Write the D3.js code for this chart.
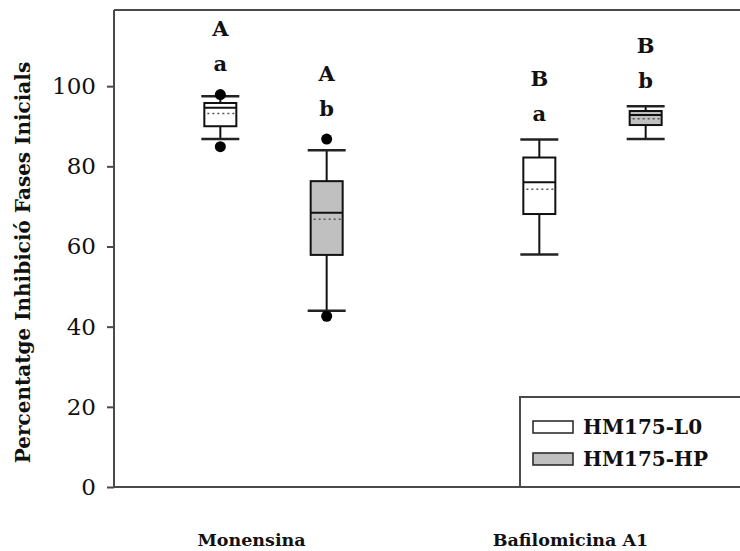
<!DOCTYPE html>
<html>
<head>
<meta charset="utf-8">
<script src="https://cdn.jsdelivr.net/npm/d3@7"></script>
<style>
  html, body { margin: 0; padding: 0; background: #fff; }
  svg { display: block; }
</style>
</head>
<body>
<svg id="chart" width="740" height="551"></svg>
<script>
// Treatments (x groups) and virus strains (boxes within each group)
const groups = ["Monensina", "Bafilomicina A1"];
const series = ["HM175-L0", "HM175-HP"];

// Box statistics per group, one entry per strain
const whiskerLow  = [[86.8, 44.0], [58.0, 86.8]];
const quartile1   = [[90.0, 57.9], [68.1, 90.3]];
const medians     = [[94.6, 68.4], [76.0, 92.8]];
const means       = [[93.2, 66.8], [74.3, 91.9]];
const quartile3   = [[95.8, 76.3], [82.2, 93.8]];
const whiskerHigh = [[97.5, 84.0], [86.7, 95.0]];
const outliers    = [[[84.9, 97.9], [42.6, 86.8]], [[], []]];

// Significance letters: upper case between treatments, lower case between strains
const upperLetters = [["A", "A"], ["B", "B"]];
const lowerLetters = [["a", "b"], ["a", "b"]];

const yTicks = [0, 20, 40, 60, 80, 100];
const seriesFill = ["#ffffff", "#c0c0c0"];

const svg = d3.select("#chart");
const axisColor = "#4a4a4a";
const serif = "'DejaVu Serif', 'Liberation Serif', serif";

const plot = { left: 114, top: 10, right: 752, bottom: 487 };

const y = d3.scaleLinear().domain([0, 119]).range([plot.bottom, plot.top]);
const x = d3.scaleBand().domain(groups).range([plot.left, plot.right]).padding(0);
const xs = d3.scaleBand().domain(series).range([0, x.bandwidth()])
  .paddingInner(0).paddingOuter(0.5);

const boxW = 32, capW = 38, dotR = 5.5;

// Flatten into one record per box
const boxes = [];
groups.forEach((g, gi) => series.forEach((s, si) => boxes.push({
  g, s, si,
  lo: whiskerLow[gi][si], q1: quartile1[gi][si], med: medians[gi][si],
  mean: means[gi][si], q3: quartile3[gi][si], hi: whiskerHigh[gi][si],
  out: outliers[gi][si], up: upperLetters[gi][si], low: lowerLetters[gi][si]
})));
const cx = d => x(d.g) + xs(d.s) + xs.bandwidth() / 2;

// Top frame line
svg.append("line")
  .attr("x1", plot.left).attr("x2", 740)
  .attr("y1", plot.top).attr("y2", plot.top)
  .attr("stroke", axisColor).attr("stroke-width", 2);

// X axis baseline
svg.append("line")
  .attr("x1", plot.left).attr("x2", 740)
  .attr("y1", plot.bottom).attr("y2", plot.bottom)
  .attr("stroke", axisColor).attr("stroke-width", 2);

// Y axis
const yAxis = svg.append("g")
  .attr("transform", `translate(${plot.left},0)`)
  .call(d3.axisLeft(y).tickValues(yTicks).tickSize(7).tickPadding(11).tickSizeOuter(0));
yAxis.select(".domain").attr("stroke", axisColor).attr("stroke-width", 2)
  .attr("d", `M0,${plot.bottom}V${plot.top}`);
yAxis.selectAll(".tick line").attr("stroke", axisColor).attr("stroke-width", 2);
yAxis.selectAll(".tick text")
  .attr("font-family", serif).attr("font-size", 23).attr("fill", "#111");

// Y axis title
svg.append("text")
  .attr("transform", `translate(30,${(plot.top + plot.bottom) / 2 + 14}) rotate(-90)`)
  .attr("text-anchor", "middle")
  .attr("font-family", serif).attr("font-weight", "bold").attr("font-size", 20)
  .attr("fill", "#111")
  .text("Percentatge Inhibició Fases Inicials");

// Group labels
svg.selectAll("text.group").data(groups).join("text")
  .attr("class", "group")
  .attr("x", g => x(g) + x.bandwidth() / 2 - 22)
  .attr("y", 546)
  .attr("text-anchor", "middle")
  .attr("font-family", serif).attr("font-weight", "bold").attr("font-size", 17.5)
  .attr("fill", "#111")
  .text(g => g);

// Box plots
const bx = svg.append("g").selectAll("g").data(boxes).join("g");

// whisker stems
bx.append("line")
  .attr("x1", cx).attr("x2", cx)
  .attr("y1", d => y(d.hi)).attr("y2", d => y(d.q3))
  .attr("stroke", "#111").attr("stroke-width", 2);
bx.append("line")
  .attr("x1", cx).attr("x2", cx)
  .attr("y1", d => y(d.q1)).attr("y2", d => y(d.lo))
  .attr("stroke", "#111").attr("stroke-width", 2);
// caps
bx.selectAll("line.cap").data(d => [d.lo, d.hi].map(v => ({ c: cx(d), v }))).join("line")
  .attr("class", "cap")
  .attr("x1", c => c.c - capW / 2).attr("x2", c => c.c + capW / 2)
  .attr("y1", c => y(c.v)).attr("y2", c => y(c.v))
  .attr("stroke", "#222").attr("stroke-width", 2.5);
// box
bx.append("rect")
  .attr("x", d => cx(d) - boxW / 2).attr("width", boxW)
  .attr("y", d => y(d.q3)).attr("height", d => y(d.q1) - y(d.q3))
  .attr("fill", d => seriesFill[d.si])
  .attr("stroke", "#111").attr("stroke-width", 2);
// median
bx.append("line")
  .attr("x1", d => cx(d) - boxW / 2).attr("x2", d => cx(d) + boxW / 2)
  .attr("y1", d => y(d.med)).attr("y2", d => y(d.med))
  .attr("stroke", "#111").attr("stroke-width", 2);
// mean (dotted)
bx.append("line")
  .attr("x1", d => cx(d) - boxW / 2 + 3).attr("x2", d => cx(d) + boxW / 2 - 2)
  .attr("y1", d => y(d.mean)).attr("y2", d => y(d.mean))
  .attr("stroke", "#555").attr("stroke-width", 1.5)
  .attr("stroke-dasharray", "2,3");
// outliers
bx.selectAll("circle").data(d => d.out.map(v => ({ c: cx(d), v }))).join("circle")
  .attr("cx", o => o.c).attr("cy", o => y(o.v)).attr("r", dotR)
  .attr("fill", "#000");

// Letters above each box
const topOf = d => d.out.length ? y(d3.max(d.out)) - dotR : y(d.hi);
bx.append("text")
  .attr("x", cx).attr("y", d => topOf(d) - 26 + 8)
  .attr("text-anchor", "middle")
  .attr("font-family", serif).attr("font-weight", "bold").attr("font-size", 21)
  .attr("fill", "#111")
  .text(d => d.low);
bx.append("text")
  .attr("x", cx).attr("y", d => topOf(d) - 61 + 8)
  .attr("text-anchor", "middle")
  .attr("font-family", serif).attr("font-weight", "bold").attr("font-size", 21)
  .attr("fill", "#111")
  .text(d => d.up);

// Legend
const legend = svg.append("g");
legend.append("rect")
  .attr("x", 520).attr("y", 397).attr("width", 240).attr("height", plot.bottom - 397)
  .attr("fill", "#fff").attr("stroke", axisColor).attr("stroke-width", 2);
const items = legend.selectAll("g.item").data(series).join("g")
  .attr("class", "item")
  .attr("transform", (s, i) => `translate(533,${421 + i * 32})`);
items.append("rect")
  .attr("width", 40).attr("height", 12)
  .attr("fill", (s, i) => seriesFill[i])
  .attr("stroke", "#222").attr("stroke-width", 1.5);
items.append("text")
  .attr("x", 50).attr("y", 13)
  .attr("font-family", serif).attr("font-weight", "bold").attr("font-size", 20)
  .attr("fill", "#111")
  .text(s => s);
</script>
</body>
</html>
